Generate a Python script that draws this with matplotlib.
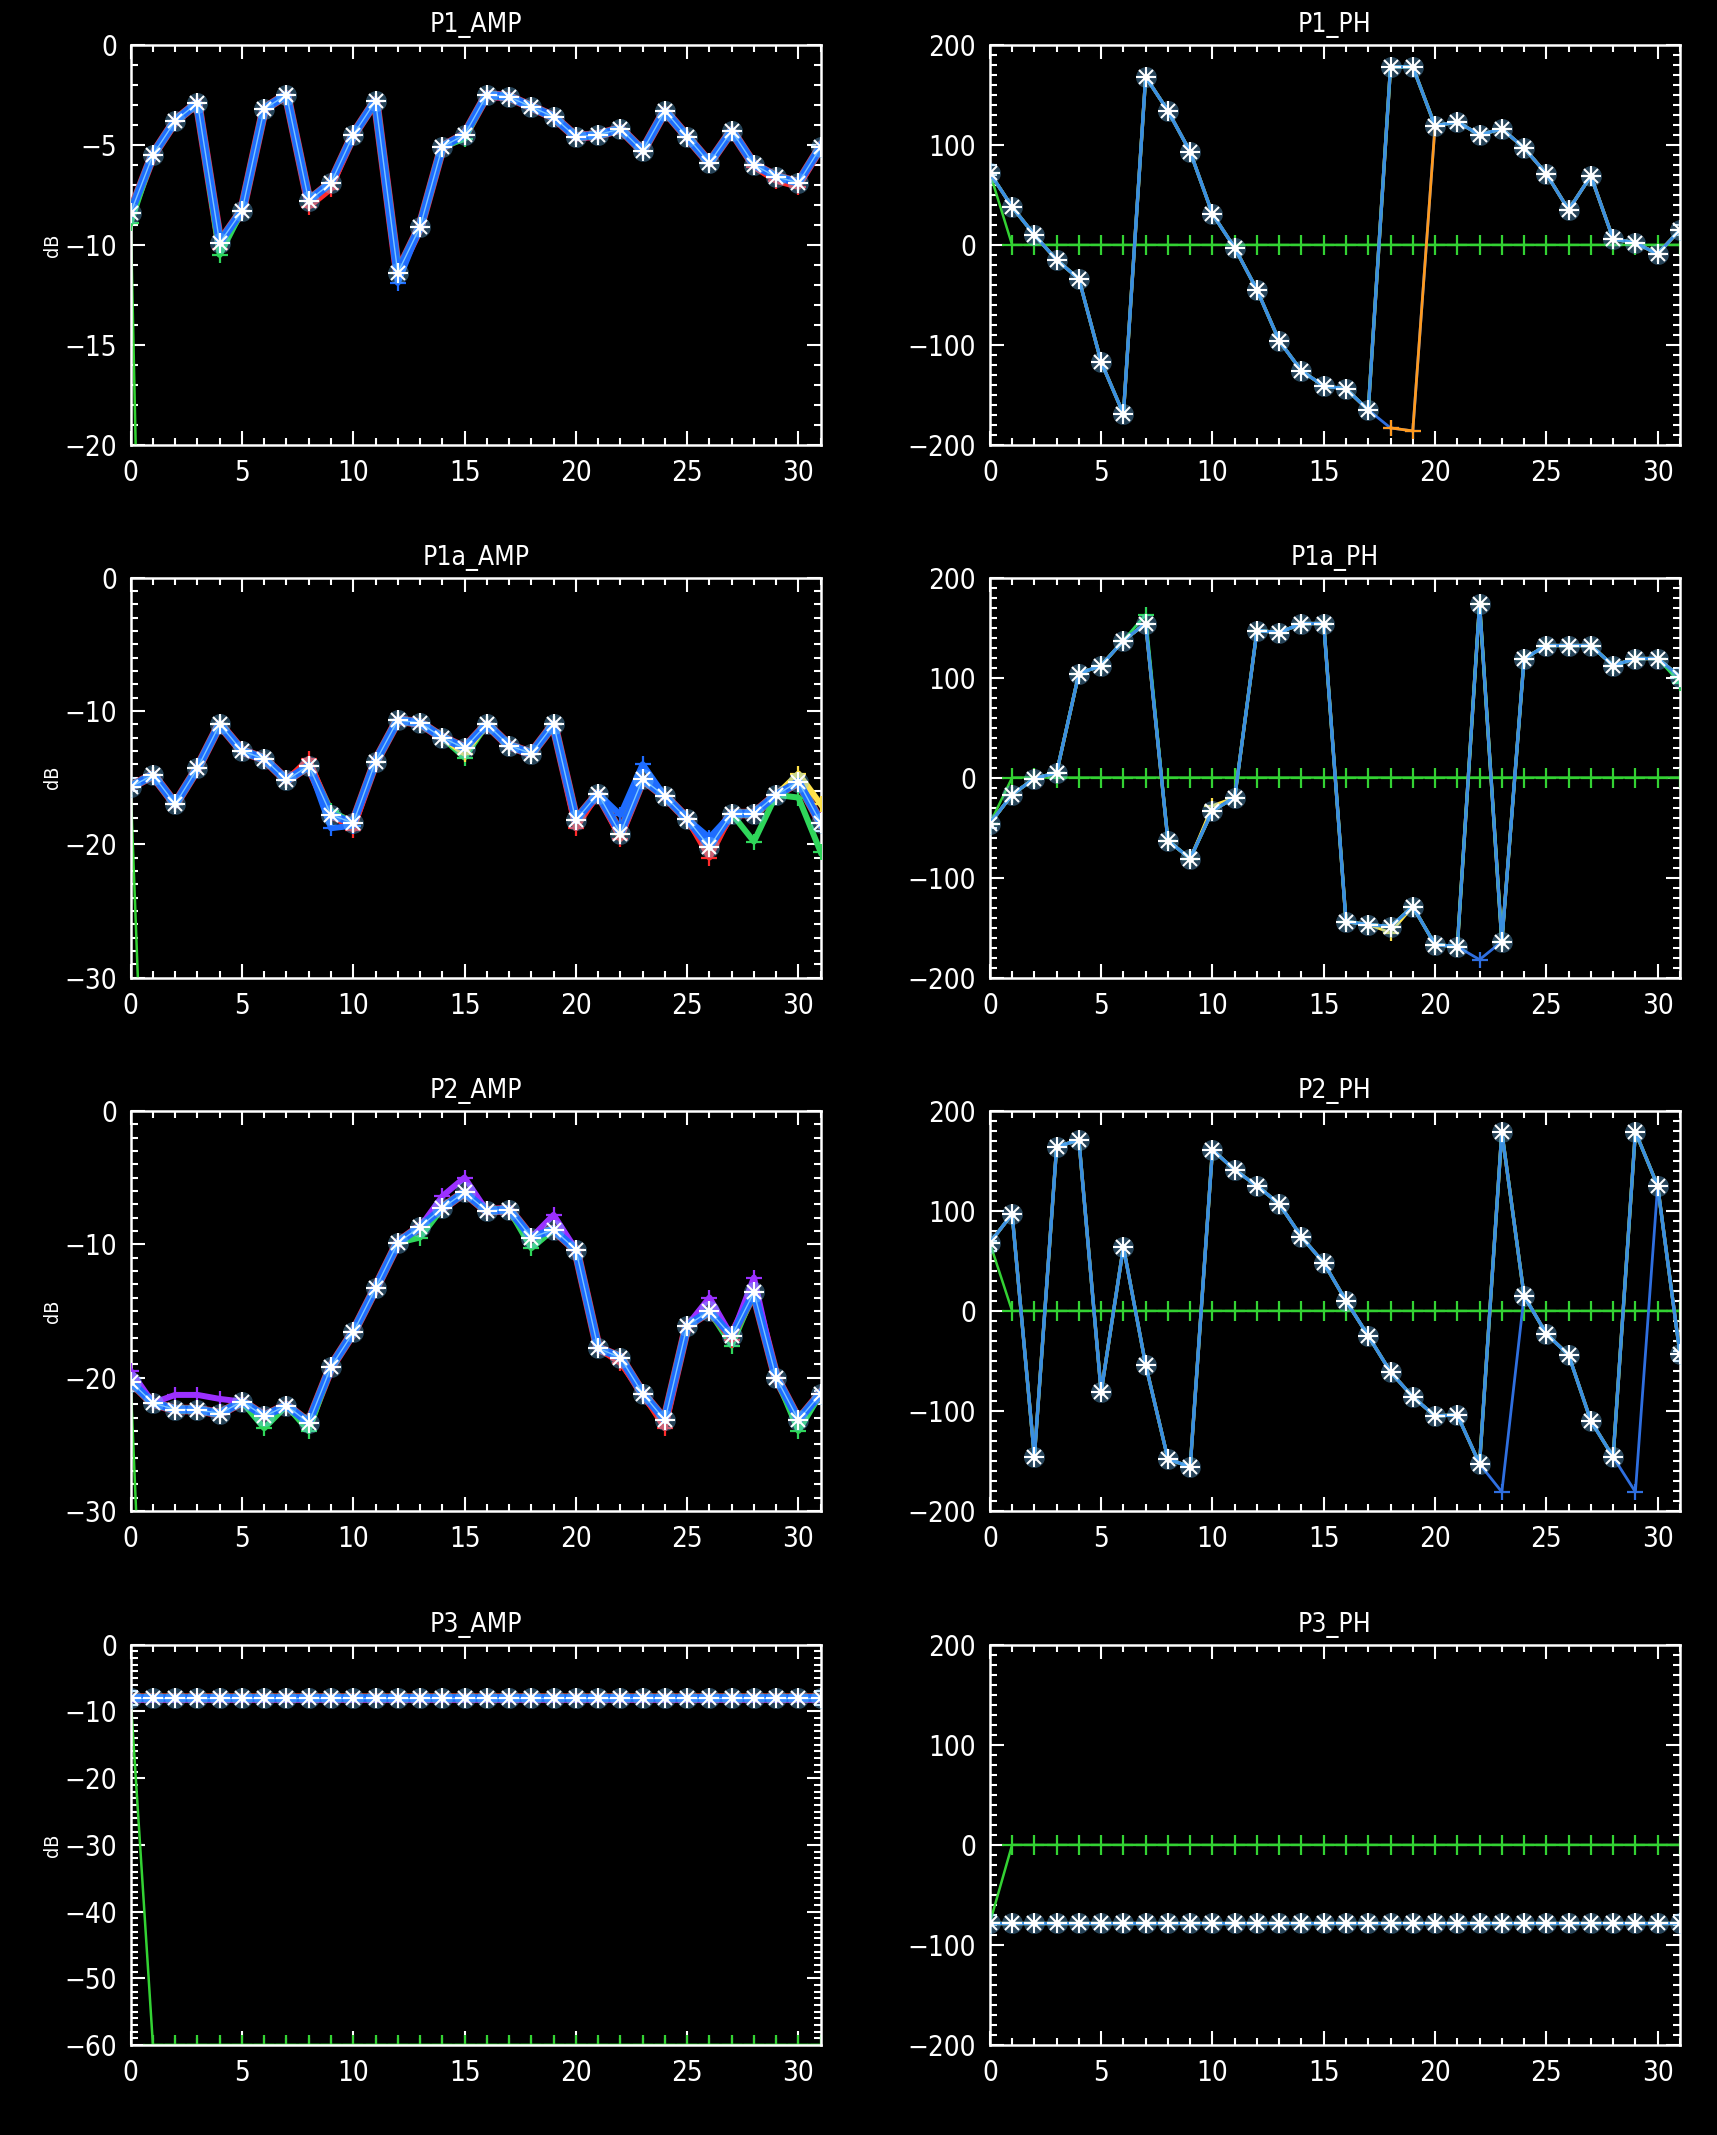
import numpy as np
import matplotlib
matplotlib.use("Agg")
import matplotlib.pyplot as plt
from matplotlib.ticker import MultipleLocator

plt.rcParams['font.family'] = ['DejaVu Sans']
plt.rcParams['font.stretch'] = 'condensed'

# channel index 0..31
chan = np.arange(32)

# main curves (white asterisks)
p1_amp = [-8.4, -5.5, -3.8, -2.9, -9.9, -8.3, -3.2, -2.5, -7.8, -6.9, -4.5, -2.8, -11.4, -9.1, -5.1, -4.5,
          -2.5, -2.6, -3.1, -3.6, -4.6, -4.5, -4.2, -5.3, -3.3, -4.6, -5.9, -4.3, -6.0, -6.6, -6.9, -5.1]
p1_ph = [72, 38, 10, -15, -34, -117, -169, 168, 134, 93, 31, -3, -45, -96, -126, -141,
         -144, -165, 178, 178, 119, 123, 110, 116, 97, 71, 35, 69, 6, 2, -9, 15]
p1a_amp = [-15.7, -14.8, -17.0, -14.3, -11.0, -13.0, -13.6, -15.2, -14.1, -17.8, -18.4, -13.8, -10.7, -10.9, -12.0, -12.8,
           -11.0, -12.6, -13.2, -11.0, -18.2, -16.2, -19.2, -15.1, -16.4, -18.1, -20.2, -17.7, -17.7, -16.3, -15.3, -18.4]
p1a_ph = [-46, -17, -1, 5, 104, 112, 137, 154, -63, -81, -33, -20, 147, 145, 154, 154,
          -144, -147, -149, -129, -167, -169, 174, -164, 119, 132, 132, 132, 112, 119, 119, 101]
p2_amp = [-20.3, -21.9, -22.4, -22.4, -22.7, -21.8, -22.9, -22.1, -23.4, -19.2, -16.6, -13.3, -9.9, -8.7, -7.3, -6.1,
          -7.5, -7.4, -9.5, -8.9, -10.4, -17.8, -18.5, -21.2, -23.2, -16.1, -15.0, -16.9, -13.6, -20.0, -23.2, -21.2]
p2_ph = [68, 97, -146, 164, 171, -81, 64, -54, -148, -156, 161, 141, 125, 107, 74, 48,
         10, -25, -61, -86, -105, -104, -153, 179, 15, -23, -44, -110, -146, 179, 125, -43]
p3_amp = [-8.0] * 32
p3_ph = [-78.0] * 32

# reference trace (green +): first channel, then the floor
amp_floor = -60.0
ph_floor = 0.0

# other traces where they part from the main curve: {channel: value}
p1_amp_red = {4: -10.2, 8: -8.1, 9: -7.2, 28: -6.1, 29: -6.8, 30: -7.1}
p1_amp_green = {0: -8.9, 4: -10.5, 15: -4.7}
p1_amp_blue = {12: -11.9}
p1_ph_wrap = {18: -183, 19: -186}
p1a_amp_red = {8: -13.6, 10: -18.9, 20: -18.8, 22: -19.6, 26: -21.0}
p1a_amp_green = {9: -17.5, 15: -13.5, 28: -19.8, 30: -16.5, 31: -20.6}
p1a_amp_yellow = {15: -13.2, 30: -14.7, 31: -17.0}
p1a_amp_blue = {9: -18.8, 10: -18.6, 22: -17.8, 23: -14.0, 26: -19.5}
p1a_ph_yellow = {10: -28, 18: -155}
p1a_ph_green = {7: 163, 31: 95}
p1a_ph_blue = {22: -182}
p2_amp_purple = {0: -19.5, 2: -21.3, 3: -21.3, 4: -21.6, 14: -6.4, 15: -5.0, 19: -7.8, 26: -14.0, 28: -12.5}
p2_amp_green = {6: -23.8, 8: -24.0, 13: -9.5, 18: -10.3, 27: -17.6, 30: -24.0}
p2_amp_red = {22: -18.9, 24: -23.8, 27: -17.2}
p2_ph_blue = {23: -181, 29: -181}

# (colour, overrides, first channel drawn)
panels = [
    ("P1_AMP", p1_amp, (-20, 0), 5, 1, True,
     [("#ff2a2a", p1_amp_red, 0), ("#2fd65a", p1_amp_green, 0), ("#1e6cff", p1_amp_blue, 0)]),
    ("P1_PH", p1_ph, (-200, 200), 100, 10, False,
     [("#2f6fe0", p1_ph_wrap, 0), ("#ff9a1f", p1_ph_wrap, 18)]),
    ("P1a_AMP", p1a_amp, (-30, 0), 10, 1, True,
     [("#ff2a2a", p1a_amp_red, 0), ("#2fd65a", p1a_amp_green, 0), ("#ffe24a", p1a_amp_yellow, 0),
      ("#1e6cff", p1a_amp_blue, 0)]),
    ("P1a_PH", p1a_ph, (-200, 200), 100, 10, False,
     [("#ffe24a", p1a_ph_yellow, 0), ("#2fd65a", p1a_ph_green, 0), ("#2f6fe0", p1a_ph_blue, 0)]),
    ("P2_AMP", p2_amp, (-30, 0), 10, 1, True,
     [("#9b30ff", p2_amp_purple, 0), ("#2fd65a", p2_amp_green, 0), ("#ff2a2a", p2_amp_red, 0)]),
    ("P2_PH", p2_ph, (-200, 200), 100, 10, False,
     [("#2f6fe0", p2_ph_blue, 0)]),
    ("P3_AMP", p3_amp, (-60, 0), 10, 1, True, []),
    ("P3_PH", p3_ph, (-200, 200), 100, 10, False, []),
]

fig = plt.figure(figsize=(17.17, 21.35), dpi=100, facecolor="black")

lefts = [0.0761, 0.5765]
bottoms = [0.7916, 0.5421, 0.2923, 0.0422]

for i, (name, vals, ylim, major, minor, is_amp, extras) in enumerate(panels):
    ax = fig.add_axes([lefts[i % 2], bottoms[i // 2], 0.4019, 0.1874], facecolor="black")
    vals = np.array(vals, dtype=float)

    # green reference trace
    ref = np.full(32, amp_floor if is_amp else ph_floor)
    ref[0] = vals[0]
    ax.plot(chan, ref, color="#33d233", lw=1.8, marker="+", ms=14, mew=1.6, zorder=2)

    band = 5.5 if is_amp else 2.4
    # bundle of nearly identical traces
    if is_amp:
        fringe = [("#ff2a2a", band + 1.5), ("#9b30ff", band + 1.0), ("#2fd65a", band + 0.5)]
    else:
        fringe = [("#ff2a2a", band), ("#ffe24a", band), ("#2fd65a", band)]
    for col, lw in fringe:
        ax.plot(chan, vals, color=col, lw=lw, marker="+", ms=12, mew=1.4, zorder=3, alpha=0.8)
    for col, over, start in extras:
        alt = vals.copy()
        for k, v in over.items():
            alt[k] = v
        w = band * 0.6 + 1 if is_amp else 2.0
        ax.plot(chan[start:], alt[start:], color=col, lw=w, marker="+", ms=12, mew=1.6, zorder=3.5)
    if is_amp:
        ax.plot(chan, vals, color="#1e6cff", lw=band, zorder=4)
        ax.plot(chan, vals, color="#7cc8ff", lw=1.0, zorder=5)
    else:
        ax.plot(chan, vals, color="#3a8ee0", lw=band, zorder=4)

    # asterisks
    ax.plot(chan, vals, ls="none", marker="o", ms=15, color="#6ec3ff", alpha=0.35, mew=0, zorder=6)
    ax.plot(chan, vals, ls="none", marker="+", ms=14, color="white", mew=1.5, zorder=7)
    ax.plot(chan, vals, ls="none", marker="x", ms=10, color="white", mew=1.5, zorder=7)
    ax.plot(chan, vals, ls="none", marker="o", ms=5, color="white", mew=0, zorder=8)

    ax.set_xlim(0, 31)
    ax.set_ylim(*ylim)
    ax.xaxis.set_major_locator(MultipleLocator(5))
    ax.xaxis.set_minor_locator(MultipleLocator(1))
    ax.yaxis.set_major_locator(MultipleLocator(major))
    ax.yaxis.set_minor_locator(MultipleLocator(minor))
    ax.tick_params(which="both", direction="in", top=True, right=True, colors="white",
                   labelsize=20, width=1.5)
    ax.tick_params(which="major", length=10, pad=10)
    ax.tick_params(which="minor", length=5)
    for sp in ax.spines.values():
        sp.set_color("white")
        sp.set_linewidth(1.8)
    ax.set_title(name, color="white", fontsize=19, pad=9)
    if is_amp:
        ax.set_ylabel("dB", color="white", fontsize=14)
        ax.yaxis.set_label_coords(-0.10, 0.5)

fig.savefig("out.png", dpi=100, facecolor="black")
